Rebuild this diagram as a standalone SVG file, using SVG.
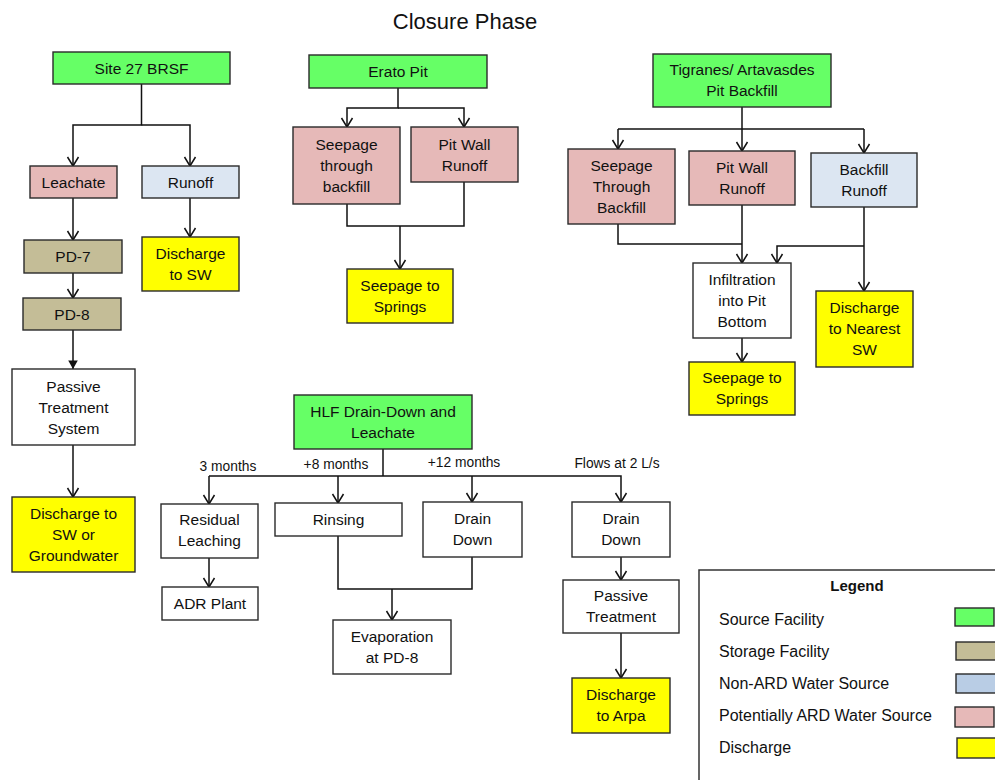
<svg xmlns="http://www.w3.org/2000/svg" width="995" height="780" viewBox="0 0 995 780">
<defs>
<style>
text{font-family:"Liberation Sans",Arial,sans-serif;fill:#111;}
.n{font-size:15.5px;text-anchor:middle;}
.lb{font-size:13.8px;text-anchor:middle;}
.lg{font-size:16px;}
.box{stroke:#2a2a2a;stroke-width:1.4;}
.src{fill:#66FF66;}
.sto{fill:#C4BD97;}
.non{fill:#DCE6F2;}
.ard{fill:#E6B9B8;}
.dis{fill:#FFFF00;}
.wht{fill:#FFFFFF;}
.c{fill:none;stroke:#111;stroke-width:1.5;}
.a{marker-end:url(#arr);}
</style>
<marker id="arr" markerUnits="userSpaceOnUse" markerWidth="14" markerHeight="14" viewBox="-10 -7 12 14" refX="0" refY="0" orient="auto">
<path d="M-9,-5.5 L0,0 L-9,5.5" fill="none" stroke="#111" stroke-width="1.5"/>
</marker>
<marker id="arrf" markerUnits="userSpaceOnUse" markerWidth="12" markerHeight="12" viewBox="-8 -5 10 10" refX="0" refY="0" orient="auto">
<path d="M-7,-4 L0,0 L-7,4 Z" fill="#111"/>
</marker>
</defs>
<rect width="995" height="780" fill="#fff"/>
<text x="465" y="29" style="font-size:22px;text-anchor:middle">Closure Phase</text>

<g id="connectors">
<path class="c a" d="M141.5,84 V125 H73 V166"/>
<path class="c a" d="M141.5,125 H190 V166"/>
<path class="c a" d="M73,198 V240"/>
<path class="c a" d="M73,273 V298"/>
<path class="c a" d="M190,198 V237"/>
<path class="c" d="M73,330 V369" marker-end="url(#arrf)"/>
<path class="c a" d="M73,445 V497"/>
<path class="c a" d="M398,88 V108 H347 V127"/>
<path class="c a" d="M398,108 H464 V127"/>
<path class="c" d="M347,204 V226 H464 V182"/>
<path class="c a" d="M400,226 V269"/>
<path class="c a" d="M742,107 V151"/>
<path class="c" d="M618,129 H864"/>
<path class="c a" d="M618,129 V149"/>
<path class="c a" d="M864,129 V153"/>
<path class="c" d="M618,224 V244 H742"/>
<path class="c a" d="M742,205 V263"/>
<path class="c a" d="M864,207 V291"/>
<path class="c a" d="M864,246 H777 V263"/>
<path class="c a" d="M742,338 V362"/>
<path class="c" d="M383,449 V476"/>
<path class="c a" d="M209,476 H621 V502"/>
<path class="c a" d="M209,476 V504"/>
<path class="c a" d="M338,476 V503"/>
<path class="c a" d="M472,476 V502"/>
<path class="c a" d="M209,558 V587"/>
<path class="c" d="M338,536 V589 H472 V557"/>
<path class="c a" d="M392,589 V620"/>
<path class="c a" d="M621,557 V580"/>
<path class="c a" d="M621,633 V678"/>
<text class="lb" x="228" y="471">3 months</text>
<text class="lb" x="336" y="469">+8 months</text>
<text class="lb" x="464" y="467">+12 months</text>
<text class="lb" x="617" y="468">Flows at 2 L/s</text>
</g>

<g id="site27"><rect class="box src" x="53" y="52" width="177" height="32"/><text class="n" x="141.5" y="73.5">Site 27 BRSF</text></g>
<g id="leachate"><rect class="box ard" x="30" y="166" width="87" height="32"/><text class="n" x="73.5" y="187.5">Leachate</text></g>
<g id="runoff"><rect class="box non" x="142" y="166" width="97" height="32"/><text class="n" x="190.5" y="187.5">Runoff</text></g>
<g id="pd7"><rect class="box sto" x="24" y="240" width="98" height="33"/><text class="n" x="73" y="262">PD-7</text></g>
<g id="pd8"><rect class="box sto" x="23" y="298" width="98" height="32"/><text class="n" x="72" y="319.5">PD-8</text></g>
<g id="dischargeSW"><rect class="box dis" x="142" y="237" width="97" height="54"/><text class="n" x="190.5" y="258.5">Discharge</text><text class="n" x="190.5" y="279.5">to SW</text></g>
<g id="passive1"><rect class="box wht" x="12" y="369" width="123" height="76"/><text class="n" x="73.5" y="391.5">Passive</text><text class="n" x="73.5" y="412.5">Treatment</text><text class="n" x="73.5" y="433.5">System</text></g>
<g id="dischargeGW"><rect class="box dis" x="12" y="497" width="123" height="75"/><text class="n" x="73.5" y="518.5">Discharge to</text><text class="n" x="73.5" y="539.5">SW or</text><text class="n" x="73.5" y="560.5">Groundwater</text></g>

<g id="erato"><rect class="box src" x="309" y="55" width="178" height="33"/><text class="n" x="398" y="77">Erato Pit</text></g>
<g id="seepBackfill"><rect class="box ard" x="293" y="127" width="107" height="77"/><text class="n" x="346.5" y="150">Seepage</text><text class="n" x="346.5" y="171">through</text><text class="n" x="346.5" y="192">backfill</text></g>
<g id="pitWall1"><rect class="box ard" x="411" y="127" width="107" height="55"/><text class="n" x="464.5" y="149.5">Pit Wall</text><text class="n" x="464.5" y="170.5">Runoff</text></g>
<g id="seepSprings1"><rect class="box dis" x="347" y="269" width="106" height="54"/><text class="n" x="400" y="290.5">Seepage to</text><text class="n" x="400" y="311.5">Springs</text></g>

<g id="tigranes"><rect class="box src" x="653" y="54" width="178" height="53"/><text class="n" x="742" y="75">Tigranes/ Artavasdes</text><text class="n" x="742" y="96">Pit Backfill</text></g>
<g id="seepThrough"><rect class="box ard" x="568" y="149" width="107" height="75"/><text class="n" x="621.5" y="171">Seepage</text><text class="n" x="621.5" y="192">Through</text><text class="n" x="621.5" y="213">Backfill</text></g>
<g id="pitWall2"><rect class="box ard" x="689" y="151" width="106" height="54"/><text class="n" x="742" y="172.5">Pit Wall</text><text class="n" x="742" y="193.5">Runoff</text></g>
<g id="backfillRunoff"><rect class="box non" x="811" y="153" width="106" height="54"/><text class="n" x="864" y="174.5">Backfill</text><text class="n" x="864" y="195.5">Runoff</text></g>
<g id="infiltration"><rect class="box wht" x="693" y="263" width="98" height="75"/><text class="n" x="742" y="285">Infiltration</text><text class="n" x="742" y="306">into Pit</text><text class="n" x="742" y="327">Bottom</text></g>
<g id="seepSprings2"><rect class="box dis" x="689" y="362" width="106" height="53"/><text class="n" x="742" y="383">Seepage to</text><text class="n" x="742" y="404">Springs</text></g>
<g id="dischargeNearest"><rect class="box dis" x="816" y="291" width="97" height="76"/><text class="n" x="864.5" y="313">Discharge</text><text class="n" x="864.5" y="334">to Nearest</text><text class="n" x="864.5" y="355">SW</text></g>

<g id="hlf"><rect class="box src" x="294" y="395" width="178" height="54"/><text class="n" x="383" y="416.5">HLF Drain-Down and</text><text class="n" x="383" y="437.5">Leachate</text></g>
<g id="residual"><rect class="box wht" x="161" y="504" width="97" height="54"/><text class="n" x="209.5" y="525">Residual</text><text class="n" x="209.5" y="546">Leaching</text></g>
<g id="rinsing"><rect class="box wht" x="275" y="503" width="127" height="33"/><text class="n" x="338.5" y="525">Rinsing</text></g>
<g id="drainDown1"><rect class="box wht" x="423" y="502" width="99" height="55"/><text class="n" x="472.5" y="524">Drain</text><text class="n" x="472.5" y="545">Down</text></g>
<g id="adr"><rect class="box wht" x="162" y="587" width="96" height="33"/><text class="n" x="210" y="609">ADR Plant</text></g>
<g id="evaporation"><rect class="box wht" x="333" y="620" width="118" height="54"/><text class="n" x="392" y="641.5">Evaporation</text><text class="n" x="392" y="662.5">at PD-8</text></g>
<g id="drainDown2"><rect class="box wht" x="572" y="502" width="98" height="55"/><text class="n" x="621" y="524">Drain</text><text class="n" x="621" y="545">Down</text></g>
<g id="passive2"><rect class="box wht" x="563" y="580" width="116" height="53"/><text class="n" x="621" y="601">Passive</text><text class="n" x="621" y="622">Treatment</text></g>
<g id="dischargeArpa"><rect class="box dis" x="572" y="678" width="98" height="55"/><text class="n" x="621" y="700">Discharge</text><text class="n" x="621" y="721">to Arpa</text></g>

<g id="legend">
<rect x="699" y="570" width="320" height="230" fill="#fff" stroke="#333" stroke-width="1.5"/>
<text x="857" y="591" style="font-size:15px;font-weight:bold;text-anchor:middle">Legend</text>
<text class="lg" x="719" y="625">Source Facility</text>
<text class="lg" x="719" y="657">Storage Facility</text>
<text class="lg" x="719" y="689">Non-ARD Water Source</text>
<text class="lg" x="719" y="721">Potentially ARD Water Source</text>
<text class="lg" x="719" y="753">Discharge</text>
<rect class="box src" x="955" y="608" width="39" height="18"/>
<rect class="box sto" x="956" y="642" width="45" height="18"/>
<rect class="box" fill="#B9CDE5" x="956" y="674" width="45" height="19"/>
<rect class="box ard" x="955" y="707" width="39" height="20"/>
<rect class="box dis" x="957" y="738" width="45" height="20"/>
</g>
</svg>
